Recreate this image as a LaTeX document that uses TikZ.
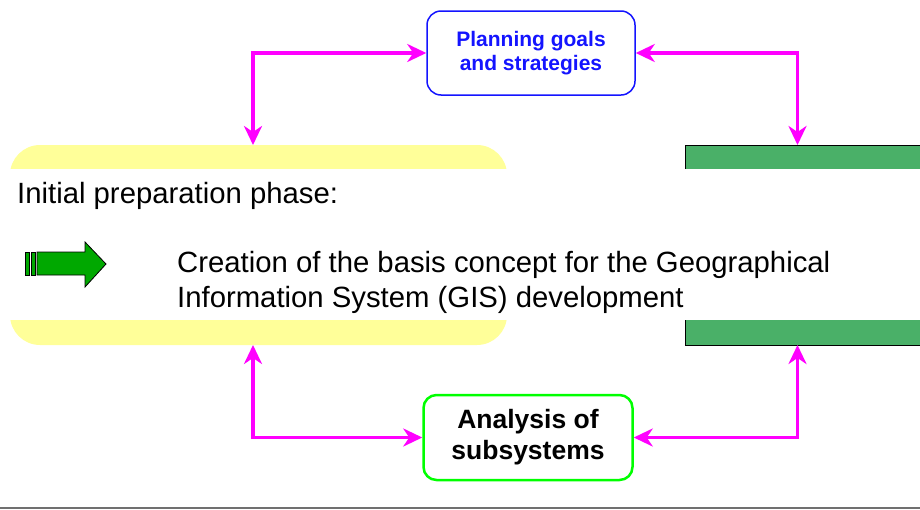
\documentclass[tikz,border=0pt]{standalone}
\usepackage{fontspec}
\setmainfont{Liberation Sans}
\usetikzlibrary{arrows.meta}
\definecolor{mag}{RGB}{255,0,255}
\definecolor{yel}{RGB}{255,255,153}
\definecolor{gbar}{RGB}{74,176,104}
\definecolor{garrow}{RGB}{0,168,0}
\definecolor{lime}{RGB}{0,255,0}
\definecolor{pblue}{RGB}{20,20,255}
\definecolor{rule}{RGB}{112,112,112}
\tikzset{
  conn/.style={draw=mag, line width=3.5pt,
    {Stealth[length=19pt,width=18pt,inset=6pt]}-{Stealth[length=19pt,width=18pt,inset=6pt]}},
  planbox/.style={draw=pblue, line width=1.5pt, rounded corners=14pt,
    minimum width=208pt, minimum height=84pt, inner sep=0pt, align=center,
    text=pblue, font=\fontsize{21}{24}\selectfont\bfseries},
  analbox/.style={draw=lime, line width=2.5pt, rounded corners=13pt,
    minimum width=209pt, minimum height=85pt, inner sep=0pt, align=center,
    text=black, font=\fontsize{26.5}{31}\selectfont\bfseries},
  bodytext/.style={inner sep=0pt, anchor=base west, align=left,
    font=\fontsize{29.3}{35}\selectfont},
  arrowpart/.style={fill=garrow, draw=black, line width=0.8pt}
}
\begin{document}
\begin{tikzpicture}[x=1pt,y=-1pt]
\useasboundingbox (0,0) rectangle (920,509);
% yellow band (rounded panel, middle covered)
\fill[yel, rounded corners=30pt] (10,145) rectangle (507,345);
\fill[white] (0,169) rectangle (520,320);
% green bars
\filldraw[fill=gbar, draw=black, line width=1pt] (685,145) rectangle (930,345);
\fill[white] (680,169) rectangle (930,320);
% bottom rule
\fill[rule] (0,506.5) rectangle (920,509);
% boxes
\node[planbox] (plan) at (531,53) {Planning goals\\and strategies};
\node[analbox] (anal) at (528,437.5) {Analysis of\\subsystems};
% anchor points on the bands
\coordinate (yt) at (253,145);
\coordinate (yb) at (253,345);
\coordinate (gt) at (797.5,145);
\coordinate (gb) at (797.5,345);
% connectors
\draw[conn] (yt) |- (plan.west);
\draw[conn] (plan.east) -| (gt);
\draw[conn] (yb) |- (anal.west);
\draw[conn] (anal.east) -| (gb);
% texts
\node[bodytext] (init) at (17,203) {Initial preparation phase:};
\node[bodytext] (crea) at (177,307) {Creation of the basis concept for the Geographical\\Information System (GIS) development};
% green block arrow
\filldraw[arrowpart] (25,252) rectangle (29.5,275);
\filldraw[arrowpart] (31,252) rectangle (35.5,275);
\filldraw[arrowpart] (37,252) -- (85,252) -- (85,242) -- (106,264) -- (85,287) -- (85,275) -- (37,275) -- cycle;
\end{tikzpicture}
\end{document}
